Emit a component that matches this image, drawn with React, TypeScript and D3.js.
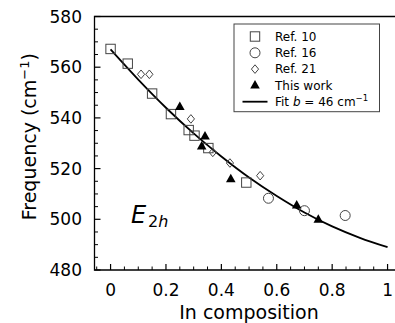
import * as d3 from 'd3'

// In composition vs E2h frequency (cm^-1)
const ref10X = [0.0, 0.062, 0.15, 0.218, 0.282, 0.303, 0.353, 0.49]
const ref10Y = [567.2, 561.4, 549.6, 541.5, 535.2, 533.0, 528.1, 514.5]

const ref16X = [0.57, 0.70, 0.847]
const ref16Y = [508.3, 503.4, 501.5]

const ref21X = [0.11, 0.14, 0.29, 0.369, 0.431, 0.54]
const ref21Y = [557.2, 557.2, 539.6, 526.4, 522.2, 517.2]

const thisWorkX = [0.25, 0.341, 0.329, 0.434, 0.672, 0.75]
const thisWorkY = [544.3, 532.7, 528.7, 515.8, 505.4, 499.8]

// fit curve (b = 46 cm^-1)
const fitX = [0, 0.1, 0.2, 0.3, 0.4, 0.5, 0.6, 0.7, 0.8, 0.9, 1.0]
const fitY = [567, 555.1, 544.0, 533.9, 524.8, 516.5, 509.2, 502.7, 497.2, 492.7, 489]

const xTicks = [0, 0.2, 0.4, 0.6, 0.8, 1]
const xTickLabels = ['0', '0.2', '0.4', '0.6', '0.8', '1']
const yTicks = [480, 500, 520, 540, 560, 580]

const W = 395
const H = 323
const FONT = 'DejaVu Sans, sans-serif'
const EDGE = '#444'

export default function App() {
  const left = 94.5
  const top = 16.5
  const bottom = 270
  const x = d3.scaleLinear().domain([-0.058, 1.06]).range([left, left + 1.118 * 277])
  const y = d3.scaleLinear().domain([480, 580]).range([bottom, top])
  const right = x(1.06)

  const xMinor = d3.range(-0.05, 1.06, 0.05).filter((v) => Math.abs(Math.round(v * 5) - v * 5) > 0.01)
  const yMinor = d3.range(485, 580, 5).filter((v) => v % 20 !== 0)

  const fitLine = d3.line<number>()
    .x((_, i) => x(fitX[i]))
    .y((d) => y(d))
    .curve(d3.curveMonotoneX)

  const square = (cx: number, cy: number, k: string) => (
    <rect key={k} x={cx - 4.7} y={cy - 4.7} width={9.4} height={9.4} fill="none" stroke={EDGE} strokeWidth={1} />
  )
  const circle = (cx: number, cy: number, k: string) => (
    <circle key={k} cx={cx} cy={cy} r={5} fill="none" stroke={EDGE} strokeWidth={1} />
  )
  const diamond = (cx: number, cy: number, k: string) => (
    <path key={k} d={`M${cx},${cy - 4.3}L${cx + 3.6},${cy}L${cx},${cy + 4.3}L${cx - 3.6},${cy}Z`}
      fill="none" stroke={EDGE} strokeWidth={1} />
  )
  const triangle = (cx: number, cy: number, k: string) => (
    <path key={k} d={`M${cx},${cy - 5.5}L${cx + 4.8},${cy + 3}L${cx - 4.8},${cy + 3}Z`} fill="#000" />
  )

  const legendItems = [
    { label: 'Ref. 10', mark: square },
    { label: 'Ref. 16', mark: circle },
    { label: 'Ref. 21', mark: diamond },
    { label: 'This work', mark: triangle },
  ]
  const legX = 234
  const legRowY = (i: number) => 36.5 + i * 16.3

  return (
    <svg width={W} height={H} style={{ position: 'absolute', left: 0, top: 0, background: '#fff' }}
      fontFamily={FONT}>
      {/* frame */}
      <path d={`M${right},${top}H${left}V${bottom}H${right}`} fill="none" stroke="#000" strokeWidth={1.3} />

      {/* y ticks */}
      {yTicks.map((v) => (
        <g key={'yt' + v}>
          <line x1={left} x2={left + 6} y1={y(v)} y2={y(v)} stroke="#000" strokeWidth={1.2} />
          <text x={82} y={y(v)} dy="0.36em" textAnchor="end" fontSize={17}>{v}</text>
        </g>
      ))}
      {yMinor.map((v) => (
        <line key={'ym' + v} x1={left} x2={left + 3.5} y1={y(v)} y2={y(v)} stroke="#000" strokeWidth={1} />
      ))}

      {/* x ticks */}
      {xTicks.map((v, i) => (
        <g key={'xt' + v}>
          <line x1={x(v)} x2={x(v)} y1={bottom} y2={bottom - 6} stroke="#000" strokeWidth={1.2} />
          <text x={x(v)} y={296} textAnchor="middle" fontSize={17}>{xTickLabels[i]}</text>
        </g>
      ))}
      {xMinor.map((v) => (
        <line key={'xm' + v} x1={x(v)} x2={x(v)} y1={bottom} y2={bottom - 3.5} stroke="#000" strokeWidth={1} />
      ))}

      {/* axis labels */}
      <text x={249} y={319} textAnchor="middle" fontSize={19}>In composition</text>
      <text transform={`translate(36,136.7) rotate(-90)`} textAnchor="middle" fontSize={19}>
        Frequency (cm<tspan fontSize={13} dy={-7.5}>−1</tspan><tspan dy={7.5}>)</tspan>
      </text>

      {/* fit */}
      <path d={fitLine(fitY) ?? ''} fill="none" stroke="#000" strokeWidth={1.8} />

      {/* data */}
      {ref10X.map((v, i) => square(x(v), y(ref10Y[i]), 'r10' + i))}
      {ref16X.map((v, i) => circle(x(v), y(ref16Y[i]), 'r16' + i))}
      {ref21X.map((v, i) => diamond(x(v), y(ref21Y[i]), 'r21' + i))}
      {thisWorkX.map((v, i) => triangle(x(v), y(thisWorkY[i]), 'tw' + i))}

      {/* E2h label */}
      <text x={131} y={222.7} fontSize={24} fontStyle="italic">E</text>
      <text x={148} y={226.5} fontSize={16}>2<tspan fontStyle="italic">h</tspan></text>

      {/* legend */}
      <rect x={legX} y={24} width={145.5} height={87.7} fill="#fff" stroke={EDGE} strokeWidth={1} />
      {legendItems.map((it, i) => (
        <g key={'lg' + i}>
          {it.mark(255, legRowY(i), 'lm' + i)}
          <text x={275} y={legRowY(i)} dy="0.36em" fontSize={12}>{it.label}</text>
        </g>
      ))}
      <line x1={242.5} x2={267.5} y1={legRowY(4)} y2={legRowY(4)} stroke="#000" strokeWidth={1.8} />
      <text x={275} y={legRowY(4)} dy="0.36em" fontSize={12}>
        Fit <tspan fontStyle="italic">b</tspan> = 46 cm<tspan fontSize={8.5} dy={-5}>−1</tspan>
      </text>
    </svg>
  )
}
